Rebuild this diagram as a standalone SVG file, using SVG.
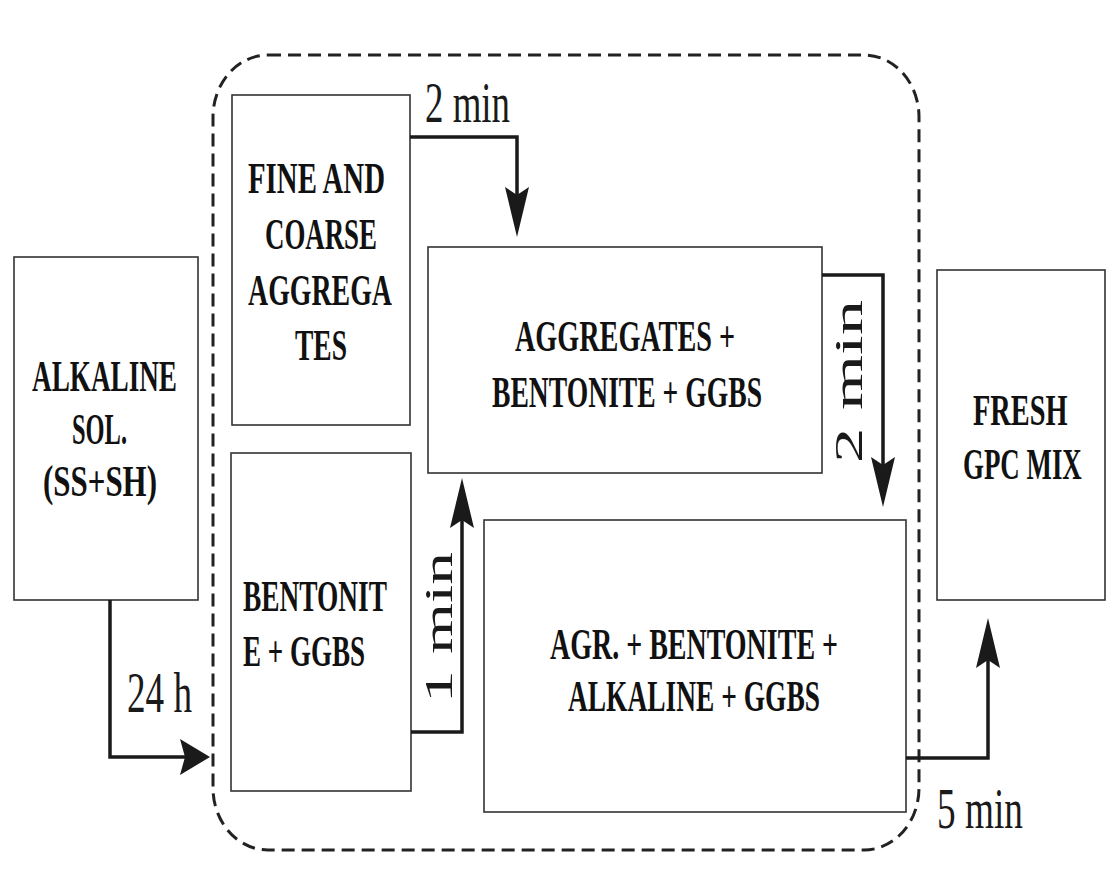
<svg xmlns="http://www.w3.org/2000/svg" width="1110" height="875" viewBox="0 0 1110 875">
<style>
.box{fill:#fff;stroke:#333;stroke-width:1.6}
.t{font-family:"Liberation Serif","Times New Roman",serif;font-weight:bold;font-size:45px;fill:#111}
.lbl{font-family:"Liberation Serif","Times New Roman",serif;font-size:58px;fill:#1a1a1a}
.rl{font-family:"Liberation Serif","Times New Roman",serif;font-size:40px;fill:#1a1a1a}
.c{fill:none;stroke:#1a1a1a;stroke-width:3.5}
.dash{fill:none;stroke:#222;stroke-width:3;stroke-dasharray:13 7}
</style>
<defs>
<marker id="ah" viewBox="0 0 50 24" refX="8" refY="12" markerWidth="50" markerHeight="24" markerUnits="userSpaceOnUse" orient="auto">
<path d="M0,0 L50,12 L0,24 L8,12 z" fill="#1a1a1a"/>
</marker>
<marker id="ah2" viewBox="0 0 30 36" refX="5" refY="18" markerWidth="30" markerHeight="36" markerUnits="userSpaceOnUse" orient="auto">
<path d="M0,0 L30,18 L0,36 L5,18 z" fill="#1a1a1a"/>
</marker>
</defs>
<rect width="1110" height="875" fill="#fff"/>
<g id="mixing-boundary">
<rect class="dash" x="213" y="55" width="706" height="795" rx="55" ry="62"/>
</g>
<g id="alkaline">
<rect class="box" x="14" y="257" width="184" height="343"/>
<text class="t" x="32" y="391" textLength="145" lengthAdjust="spacingAndGlyphs">ALKALINE</text>
<text class="t" x="72" y="444" textLength="55" lengthAdjust="spacingAndGlyphs">SOL.</text>
<text class="t" x="43" y="496" textLength="114" lengthAdjust="spacingAndGlyphs">(SS+SH)</text>
</g>
<g id="fine-coarse">
<rect class="box" x="232" y="95" width="178" height="330"/>
<text class="t" x="248" y="193" textLength="137" lengthAdjust="spacingAndGlyphs">FINE AND</text>
<text class="t" x="265" y="249" textLength="112" lengthAdjust="spacingAndGlyphs">COARSE</text>
<text class="t" x="248" y="305" textLength="144" lengthAdjust="spacingAndGlyphs">AGGREGA</text>
<text class="t" x="295" y="360" textLength="52" lengthAdjust="spacingAndGlyphs">TES</text>
</g>
<g id="bentonite">
<rect class="box" x="231" y="453" width="180" height="338"/>
<text class="t" x="243" y="611" textLength="144" lengthAdjust="spacingAndGlyphs">BENTONIT</text>
<text class="t" x="243" y="666" textLength="122" lengthAdjust="spacingAndGlyphs">E + GGBS</text>
</g>
<g id="agg-bent-ggbs">
<rect class="box" x="428" y="247" width="394" height="226"/>
<text class="t" x="515" y="351" textLength="220" lengthAdjust="spacingAndGlyphs">AGGREGATES +</text>
<text class="t" x="492" y="407" textLength="270" lengthAdjust="spacingAndGlyphs">BENTONITE + GGBS</text>
</g>
<g id="agr-bent-alk-ggbs">
<rect class="box" x="484" y="520" width="422" height="292"/>
<text class="t" x="550" y="659" textLength="288" lengthAdjust="spacingAndGlyphs">AGR. + BENTONITE +</text>
<text class="t" x="568" y="711" textLength="252" lengthAdjust="spacingAndGlyphs">ALKALINE + GGBS</text>
</g>
<g id="fresh-gpc">
<rect class="box" x="937" y="270" width="168" height="330"/>
<text class="t" transform="translate(973,425) scale(0.63,1)" textLength="150" lengthAdjust="spacingAndGlyphs">FRESH</text>
<text class="t" transform="translate(963,479) scale(0.6,1)" textLength="198" lengthAdjust="spacingAndGlyphs">GPC MIX</text>
</g>
<g id="connectors">
<path class="c" d="M110,600 V757 H185" marker-end="url(#ah2)"/>
<text class="lbl" x="127" y="712" textLength="65" lengthAdjust="spacingAndGlyphs">24 h</text>
<path class="c" d="M410,137 H517 V195" marker-end="url(#ah)"/>
<text class="lbl" x="425" y="122" textLength="85" lengthAdjust="spacingAndGlyphs">2 min</text>
<path class="c" d="M411,732 H462 V520" marker-end="url(#ah)"/>
<text class="rl" transform="translate(452,703) rotate(-90)" textLength="151" lengthAdjust="spacingAndGlyphs">1 min</text>
<path class="c" d="M822,275 H883 V465" marker-end="url(#ah)"/>
<text class="rl" transform="translate(862,463) rotate(-90)" textLength="163" lengthAdjust="spacingAndGlyphs">2 min</text>
<path class="c" d="M906,758 H988 V660" marker-end="url(#ah)"/>
<text class="lbl" x="937" y="828" textLength="86" lengthAdjust="spacingAndGlyphs">5 min</text>
</g>
</svg>
